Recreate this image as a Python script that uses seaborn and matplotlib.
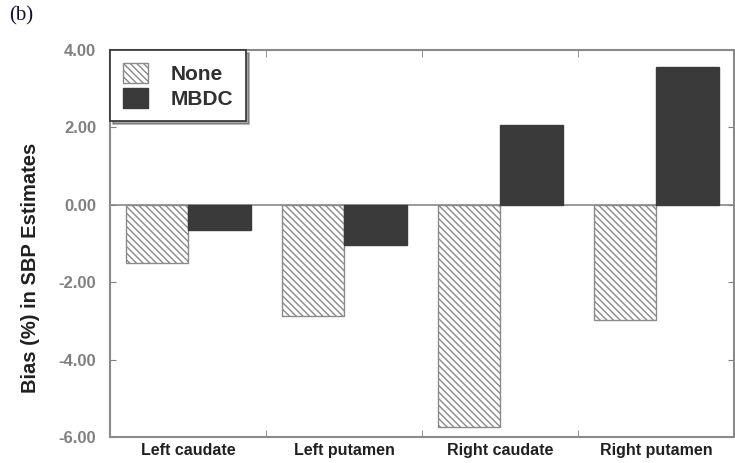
import pandas as pd
import numpy as np
import matplotlib
matplotlib.use("Agg")
import matplotlib.pyplot as plt
import seaborn as sns

regions = ["Left caudate", "Left putamen", "Right caudate", "Right putamen"]
methods = ["None", "MBDC"]
bias_none = [-1.50, -2.86, -5.75, -2.97]
bias_mbdc = [-0.65, -1.03, 2.06, 3.56]

df = pd.DataFrame({
    "region": regions * 2,
    "method": ["None"] * 4 + ["MBDC"] * 4,
    "bias": bias_none + bias_mbdc,
})

sns.set_style("ticks")
plt.rcParams["font.family"] = ["Liberation Sans", "DejaVu Sans"]
plt.rcParams["hatch.color"] = "#8a8a8a"
plt.rcParams["hatch.linewidth"] = 1.0

fig = plt.figure(figsize=(7.35, 4.63), dpi=100)
ax = fig.add_axes([0.150, 0.056, 0.849, 0.836])

sns.barplot(data=df, x="region", y="bias", hue="method", order=regions,
            hue_order=methods, palette={"None": "white", "MBDC": "#3a3a3a"},
            width=0.8, saturation=1, edgecolor="#7a7a7a", linewidth=1.0,
            legend=False, ax=ax)

# hatched bars for "None"
for bar in ax.containers[0]:
    bar.set_hatch("\\\\\\\\\\")
    bar.set_edgecolor("#8a8a8a")
for bar in ax.containers[1]:
    bar.set_edgecolor("#3a3a3a")

ax.axhline(0, color="#8a8a8a", lw=1.2, zorder=0)

ax.set_ylim(-6, 4)
ax.set_xlim(-0.5, 3.5)
ax.set_yticks(np.arange(-6, 4.1, 2))
ax.set_yticklabels([f"{v:.2f}" for v in np.arange(-6, 4.1, 2)],
                   fontsize=12, fontweight="bold", color="#808080")
ax.set_xticks(range(4))
ax.set_xticklabels(regions, fontsize=11.5, fontweight="bold", color="#202020")
ax.tick_params(axis="x", length=0, pad=4)
ax.tick_params(axis="y", direction="in", length=4, color="#808080",
               right=True, pad=10)
# ticks at category boundaries
ax.set_xticks([0.5, 1.5, 2.5], minor=True)
ax.tick_params(axis="x", which="minor", direction="in", length=5,
               top=True, bottom=True, color="#808080")

for s in ax.spines.values():
    s.set_color("#8a8a8a")
    s.set_linewidth(1.5)

ax.set_xlabel("")
ax.set_ylabel("Bias (%) in SBP Estimates", fontsize=14.5, fontweight="bold",
              color="#202020")
ax.yaxis.set_label_coords(-0.112, 0.437)

# legend built from the drawn bars so the hatch carries over
leg = ax.legend([ax.containers[0][0], ax.containers[1][0]], methods,
                loc="upper left", frameon=True, fancybox=False, shadow=True,
                fontsize=15, borderaxespad=0, handlelength=1.2,
                handleheight=1.1, borderpad=0.6, labelspacing=0.2,
                handletextpad=1.1)
leg.get_frame().set_edgecolor("#303030")
leg.get_frame().set_linewidth(1.2)
for t in leg.get_texts():
    t.set_fontweight("bold")
    t.set_color("#303030")

fig.text(0.012, 0.955, "(b)", fontsize=15, family="Liberation Serif",
         color="#101030")

fig.savefig("out.png", dpi=100)
